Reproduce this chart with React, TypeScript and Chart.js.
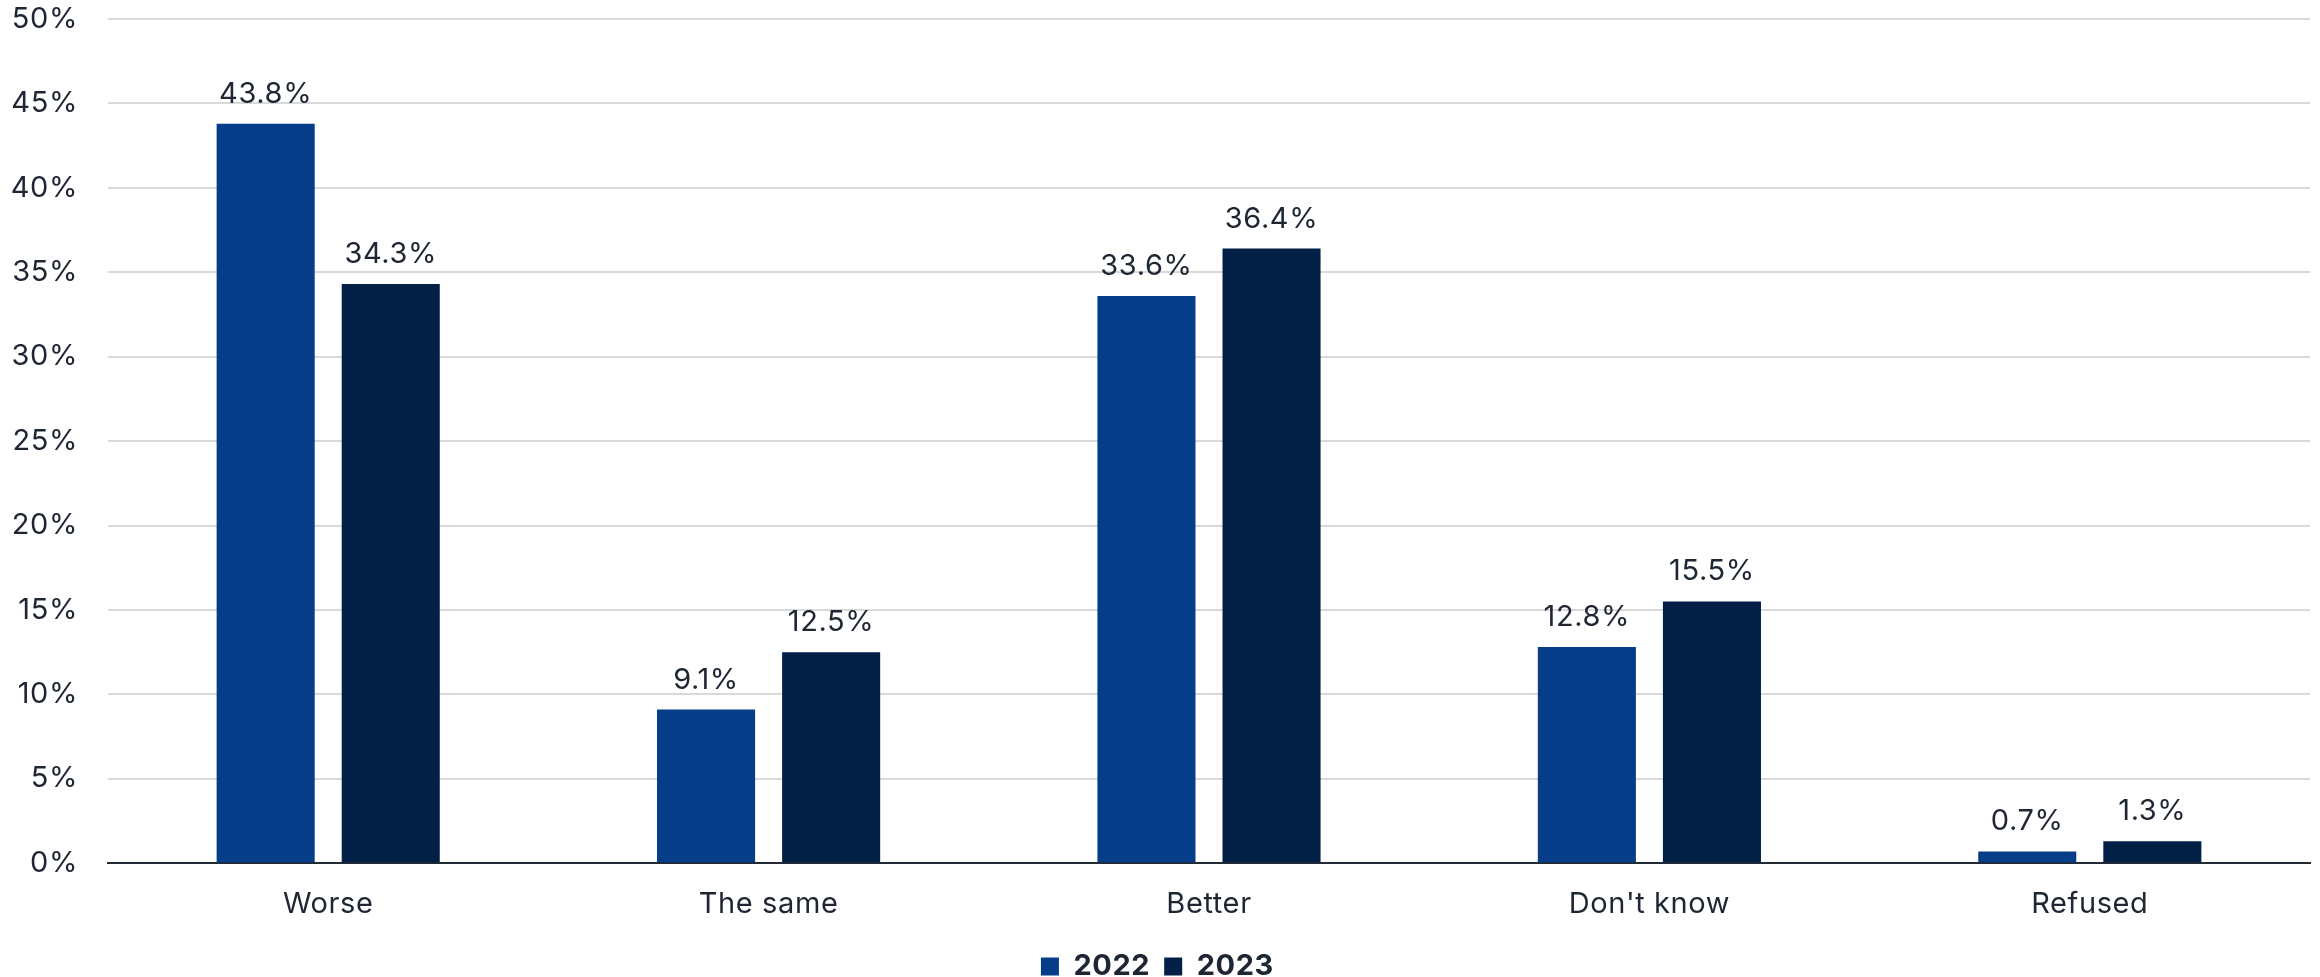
import React, { useEffect, useRef } from "react";
import { Chart, registerables } from "chart.js";

Chart.register(...registerables);

const categories = ["Worse", "The same", "Better", "Don't know", "Refused"];
const values2022 = [43.8, 9.1, 33.6, 12.8, 0.7];
const values2023 = [34.3, 12.5, 36.4, 15.5, 1.3];
const seriesLabels = ["2022", "2023"];
const yTicks = [0, 5, 10, 15, 20, 25, 30, 35, 40, 45, 50];

const FONT = "Inter, 'Noto Sans', sans-serif";
const TEXT = "#1e2633";

const spacing = {
  id: "spacing",
  beforeDraw(chart: any) {
    chart.ctx.letterSpacing = "0.6px";
  },
};

const valueLabels = {
  id: "valueLabels",
  afterDatasetsDraw(chart: any) {
    const ctx = chart.ctx;
    ctx.save();
    ctx.font = `400 29px ${FONT}`;
    ctx.fillStyle = TEXT;
    ctx.textAlign = "center";
    ctx.textBaseline = "alphabetic";
    chart.data.datasets.forEach((ds: any, i: number) => {
      const meta = chart.getDatasetMeta(i);
      meta.data.forEach((bar: any, j: number) => {
        ctx.fillText(ds.data[j].toFixed(1) + "%", bar.x, bar.y - 21);
      });
    });
    ctx.restore();
  },
};

export default function App() {
  const ref = useRef<HTMLCanvasElement>(null);
  useEffect(() => {
    document.body.style.margin = "0";
    const chart = new Chart(ref.current!, {
      type: "bar",
      data: {
        labels: categories,
        datasets: [
          { label: seriesLabels[0], data: values2022, backgroundColor: "#053d89" },
          { label: seriesLabels[1], data: values2023, backgroundColor: "#022046" },
        ],
      },
      options: {
        animation: false,
        responsive: false,
        maintainAspectRatio: false,
        layout: { padding: { top: 19, right: 10, left: 0, bottom: -14 } },
        datasets: { bar: { categoryPercentage: 0.568, barPercentage: 0.784 } },
        plugins: {
          tooltip: { enabled: false },
          legend: {
            position: "bottom",
            labels: {
              boxWidth: 18,
              boxHeight: 18,
              padding: 14,
              color: TEXT,
              font: { family: FONT, size: 29, weight: "bold" },
            },
          },
        },
        scales: {
          x: {
            grid: { display: false },
            border: { display: true, color: "#222a35", width: 2 },
            ticks: { color: TEXT, padding: 16, font: { family: FONT, size: 29 } },
          },
          y: {
            min: 0,
            max: 50,
            afterBuildTicks: (scale: any) => {
              scale.ticks = yTicks.map((v) => ({ value: v }));
            },
            afterFit: (scale: any) => {
              scale.width = 108;
              scale.paddingTop = 0;
              scale.paddingBottom = 0;
            },
            grid: { color: "#d9d9d9", lineWidth: 2, drawTicks: false },
            border: { display: false },
            ticks: {
              color: TEXT,
              padding: 30,
              font: { family: FONT, size: 29 },
              callback: (v: any) => v + "%",
            },
          },
        },
      },
      plugins: [spacing, valueLabels],
    });
    return () => chart.destroy();
  }, []);
  return (
    <div style={{ position: "absolute", left: 0, top: 0, width: 2320, height: 977 }}>
      <canvas ref={ref} width={2320} height={977} />
    </div>
  );
}
